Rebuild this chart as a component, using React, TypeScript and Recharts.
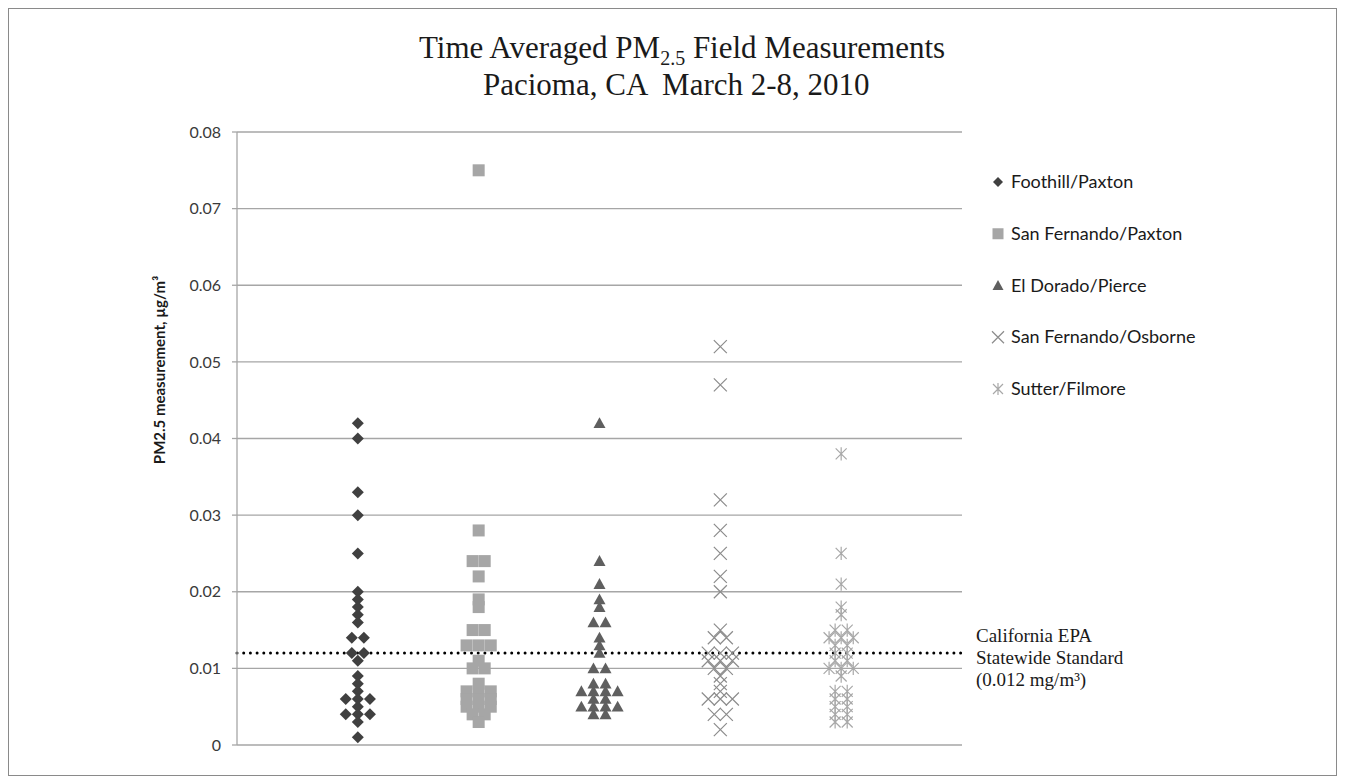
import { ScatterChart, Scatter, XAxis, YAxis, CartesianGrid, ReferenceLine, Legend } from 'recharts';

// one column per monitoring site, values in the order (duplicates kept)
const SITES = ['Foothill/Paxton', 'San Fernando/Paxton', 'El Dorado/Pierce', 'San Fernando/Osborne', 'Sutter/Filmore'];

const FOOTHILL_PAXTON = [
  0.042, 0.04, 0.033, 0.03, 0.025, 0.02, 0.019, 0.018, 0.017, 0.016, 0.014, 0.014, 0.012, 0.012, 0.011,
  0.009, 0.008, 0.007, 0.006, 0.006, 0.006, 0.005, 0.004, 0.004, 0.004, 0.003, 0.001,
];
const SAN_FERNANDO_PAXTON = [
  0.075, 0.028, 0.024, 0.024, 0.022, 0.019, 0.018, 0.015, 0.015, 0.013, 0.013, 0.013, 0.011, 0.01, 0.01,
  0.008, 0.007, 0.007, 0.007, 0.006, 0.006, 0.006, 0.005, 0.005, 0.005, 0.004, 0.004, 0.003,
];
const EL_DORADO_PIERCE = [
  0.042, 0.024, 0.021, 0.019, 0.018, 0.016, 0.016, 0.014, 0.013, 0.012, 0.01, 0.01, 0.008, 0.008,
  0.007, 0.007, 0.007, 0.007, 0.006, 0.006, 0.005, 0.005, 0.005, 0.005, 0.004, 0.004,
];
const SAN_FERNANDO_OSBORNE = [
  0.052, 0.047, 0.032, 0.028, 0.025, 0.022, 0.02, 0.015, 0.014, 0.014, 0.012, 0.012, 0.012, 0.011, 0.011,
  0.011, 0.01, 0.01, 0.009, 0.008, 0.007, 0.006, 0.006, 0.006, 0.004, 0.004, 0.002,
];
const SUTTER_FILMORE = [
  0.038, 0.025, 0.021, 0.018, 0.017, 0.015, 0.015, 0.014, 0.014, 0.014, 0.013, 0.013, 0.012, 0.012,
  0.011, 0.011, 0.01, 0.01, 0.01, 0.009, 0.007, 0.007, 0.006, 0.006, 0.005, 0.005, 0.004, 0.004, 0.003, 0.003,
];

const Y_TICKS = [0, 0.01, 0.02, 0.03, 0.04, 0.05, 0.06, 0.07, 0.08];
const STANDARD = 0.012;

// spread equal readings side by side, like the original dot plot
function column(values: number[], col: number) {
  const counts = new Map<number, number>();
  values.forEach((v) => counts.set(v, (counts.get(v) ?? 0) + 1));
  const seen = new Map<number, number>();
  return values.map((v) => {
    const n = counts.get(v)!;
    const i = seen.get(v) ?? 0;
    seen.set(v, i + 1);
    return { x: col + (i - (n - 1) / 2) * 0.1, y: v };
  });
}

type Pt = { cx: number; cy: number };

const diamond = ({ cx, cy }: Pt, r = 6) => (
  <path d={`M${cx},${cy - r}L${cx + r},${cy}L${cx},${cy + r}L${cx - r},${cy}Z`} fill="#404040" />
);
const square = ({ cx, cy }: Pt, r = 6) => <rect x={cx - r} y={cy - r} width={r * 2} height={r * 2} fill="#a6a6a6" />;
const triangle = ({ cx, cy }: Pt, r = 6) => (
  <path d={`M${cx},${cy - r}L${cx + r},${cy + r * 0.8}L${cx - r},${cy + r * 0.8}Z`} fill="#5f5f5f" />
);
const cross = ({ cx, cy }: Pt, r = 6.5) => (
  <path d={`M${cx - r},${cy - r}L${cx + r},${cy + r}M${cx - r},${cy + r}L${cx + r},${cy - r}`} stroke="#8c8c8c" strokeWidth={1.2} fill="none" />
);
const star = ({ cx, cy }: Pt, r = 5.5) => (
  <path
    d={`M${cx - r},${cy - r}L${cx + r},${cy + r}M${cx - r},${cy + r}L${cx + r},${cy - r}M${cx},${cy - r * 1.2}L${cx},${cy + r * 1.2}`}
    stroke="#a8a8a8"
    strokeWidth={1.2}
    fill="none"
  />
);

const SERIES = [
  { name: SITES[0], values: FOOTHILL_PAXTON, marker: diamond, legendSize: 5 },
  { name: SITES[1], values: SAN_FERNANDO_PAXTON, marker: square, legendSize: 5.5 },
  { name: SITES[2], values: EL_DORADO_PIERCE, marker: triangle, legendSize: 5.5 },
  { name: SITES[3], values: SAN_FERNANDO_OSBORNE, marker: cross, legendSize: 6 },
  { name: SITES[4], values: SUTTER_FILMORE, marker: star, legendSize: 5 },
];

// legend keeps the series order (recharts sorts the payload by name)
const renderLegend = () => (
  <svg width={300} height={240}>
    {SERIES.map((s, i) => {
      const cy = 13 + i * 51.75;
      return (
        <g key={s.name}>
          {s.marker({ cx: 8, cy }, s.legendSize)}
          <text x={21} y={cy + 6} fontFamily="Lato" fontSize={18} fill="#1a1a1a">
            {s.name}
          </text>
        </g>
      );
    })}
  </svg>
);

const StandardLabel = (props: any) => {
  const vb = props.viewBox;
  if (!vb) return null;
  const x = vb.x + vb.width + 14;
  return (
    <text x={x} y={vb.y} fontFamily="Liberation Serif" fontSize={19} fill="#1a1a1a">
      <tspan x={x} dy={-11}>California EPA</tspan>
      <tspan x={x} dy={22}>Statewide Standard</tspan>
      <tspan x={x} dy={22}>(0.012 mg/m³)</tspan>
    </text>
  );
};

const AxisTitle = (props: any) => {
  const vb = props.viewBox;
  if (!vb) return null;
  const x = vb.x - 12;
  const y = vb.y + 238;
  return (
    <text x={x} y={y} transform={`rotate(-90 ${x} ${y})`} textAnchor="middle" fontFamily="Lato" fontWeight={700} fontSize={15} fill="#1a1a1a">
      PM2.5 measurement, µg/m³
    </text>
  );
};

export default function App() {
  return (
    <div style={{ position: 'relative', width: 1327, height: 766, border: '1px solid #8a8a8a', background: '#fff' }}>
      <svg width={1327} height={110} style={{ position: 'absolute', left: 0, top: 0, pointerEvents: 'none' }}>
        <text x={410} y={49} fontFamily="Liberation Serif" fontSize={31} fill="#1a1a1a">
          Time Averaged PM
          <tspan fontSize={20} dy={7}>2.5</tspan>
          <tspan dy={-7}> Field Measurements</tspan>
        </text>
        <text x={474} y={86} fontFamily="Liberation Serif" fontSize={31} fill="#1a1a1a" style={{ whiteSpace: 'pre' }}>
          Pacioma, CA  March 2-8, 2010
        </text>
      </svg>
      <ScatterChart width={1327} height={766} margin={{ top: 123, right: 374, bottom: 30, left: 168 }}>
        <CartesianGrid vertical={false} stroke="#a6a6a6" strokeWidth={1.3} />
        <XAxis type="number" dataKey="x" domain={[0, 6]} hide />
        <YAxis
          type="number"
          dataKey="y"
          domain={[0, 0.08]}
          ticks={Y_TICKS}
          interval={0}
          width={60}
          tickSize={5}
          tickMargin={11}
          axisLine={{ stroke: '#a6a6a6', strokeWidth: 1.3 }}
          tickLine={{ stroke: '#a6a6a6', strokeWidth: 1.3 }}
          tick={{ fill: '#3a3a3a', fontSize: 16, fontFamily: 'Lato' }}
          tickFormatter={(v: number) => (v === 0 ? '0' : v.toFixed(2))}
          label={<AxisTitle />}
        />
        <ReferenceLine
          y={STANDARD}
          stroke="#000"
          strokeWidth={3}
          strokeDasharray="0 6.7"
          strokeLinecap="round"
          label={<StandardLabel />}
        />
        {SERIES.map((s, i) => (
          <Scatter
            key={s.name}
            name={s.name}
            data={column(s.values, i + 1)}
            isAnimationActive={false}
            shape={(p: any) => s.marker({ cx: p.cx, cy: p.cy })}
          />
        ))}
        <Legend
          layout="vertical"
          align="center"
          verticalAlign="middle"
          content={renderLegend}
          wrapperStyle={{ left: 981, top: 160, width: 300 }}
        />
      </ScatterChart>
    </div>
  );
}
